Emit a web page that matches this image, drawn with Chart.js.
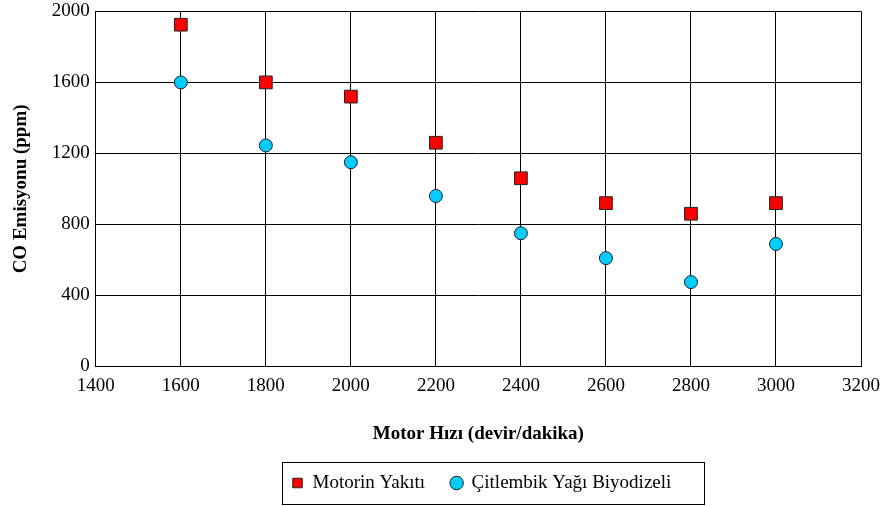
<!DOCTYPE html>
<html>
<head>
<meta charset="utf-8">
<script src="https://cdn.jsdelivr.net/npm/chart.js@4.4.0/dist/chart.umd.min.js"></script>
<style>
  html, body { margin: 0; padding: 0; background: #fff; }
  #wrap { width: 882px; height: 506px; }
</style>
</head>
<body>
<div id="wrap"><canvas id="chart"></canvas></div>
<script>
var speeds = [1600, 1800, 2000, 2200, 2400, 2600, 2800, 3000];
var motorin = [1925, 1600, 1520, 1260, 1060, 920, 860, 920];
var biyodizel = [1600, 1245, 1150, 960, 750, 610, 475, 690];
var seriesNames = ["Motorin Yakıtı", "Çitlembik Yağı Biyodizeli"];

function toPoints(vals) {
    return speeds.map(function(s, i) { return {x: s, y: vals[i]}; });
}

var serif = "'Liberation Serif', 'Times New Roman', serif";

// legend sits under the plot centre with a frame round it, like the original
var legendFrame = {
    id: 'legendFrame',
    afterUpdate: function(chart) {
        var lg = chart.legend;
        var boxes = lg.legendHitBoxes;
        if (!boxes || !boxes.length) return;
        var dx = 292 - boxes[0].left;
        var dy = 483 - (boxes[0].top + boxes[0].height / 2);
        lg.left += dx; lg.right += dx;
        lg.top += dy; lg.bottom += dy;
        boxes.forEach(function(h) { h.left += dx; h.top += dy; });
    },
    afterDraw: function(chart) {
        var boxes = chart.legend.legendHitBoxes;
        if (!boxes || !boxes.length) return;
        var l = Infinity, r = -Infinity, t = Infinity, b = -Infinity;
        boxes.forEach(function(h) {
            l = Math.min(l, h.left); r = Math.max(r, h.left + h.width);
            t = Math.min(t, h.top); b = Math.max(b, h.top + h.height);
        });
        var c = chart.ctx;
        c.save();
        c.strokeStyle = '#000';
        c.lineWidth = 1;
        var mid = (t + b) / 2;
        c.strokeRect(Math.round(l - 10) + 0.5, Math.round(mid - 21) + 0.5, Math.round(r - l + 43), 42);
        c.restore();
    }
};

var ctx = document.getElementById("chart").getContext("2d");
var myChart = new Chart(ctx, {
    type: 'scatter',
    data: {
        datasets: [
            {
                label: seriesNames[0],
                data: toPoints(motorin),
                pointStyle: 'rect',
                pointRadius: 9,
                backgroundColor: '#ff0000',
                borderColor: '#222',
                borderWidth: 1
            },
            {
                label: seriesNames[1],
                data: toPoints(biyodizel),
                pointStyle: 'circle',
                pointRadius: 6.5,
                backgroundColor: '#00ccff',
                borderColor: '#222',
                borderWidth: 1
            }
        ]
    },
    options: {
        responsive: true,
        maintainAspectRatio: false,
        animation: false,
        layout: { padding: { top: 0, right: 0, left: 6, bottom: 3 } },
        plugins: {
            tooltip: { enabled: false },
            legend: {
                position: 'bottom',
                labels: {
                    usePointStyle: true,
                    boxWidth: 11,
                    boxHeight: 9.5,
                    padding: 26,
                    color: '#000',
                    font: { family: serif, size: 19 }
                }
            }
        },
        scales: {
            x: {
                type: 'linear',
                min: 1400,
                max: 3200,
                ticks: {
                    stepSize: 200, color: '#000', padding: 2,
                    font: { family: serif, size: 19 },
                    callback: function(v) { return String(v); }
                },
                grid: { color: '#000', lineWidth: 1, drawTicks: true, tickLength: 6, tickColor: 'rgba(0,0,0,0)' },
                border: { color: '#000' },
                title: {
                    display: true,
                    text: 'Motor Hızı (devir/dakika)',
                    color: '#000',
                    font: { family: serif, size: 19, weight: 'bold' },
                    padding: { top: 23, bottom: 3 }
                }
            },
            y: {
                min: 0,
                max: 2000,
                ticks: {
                    stepSize: 400, color: '#000', padding: 0,
                    font: { family: serif, size: 19 },
                    callback: function(v) { return String(v); }
                },
                grid: { color: '#000', lineWidth: 1, drawTicks: true, tickLength: 6, tickColor: 'rgba(0,0,0,0)' },
                border: { color: '#000' },
                title: {
                    display: true,
                    text: 'CO Emisyonu (ppm)',
                    color: '#000',
                    font: { family: serif, size: 19, weight: 'bold' },
                    padding: { bottom: 19 }
                }
            }
        }
    },
    plugins: [legendFrame]
});
</script>
</body>
</html>
